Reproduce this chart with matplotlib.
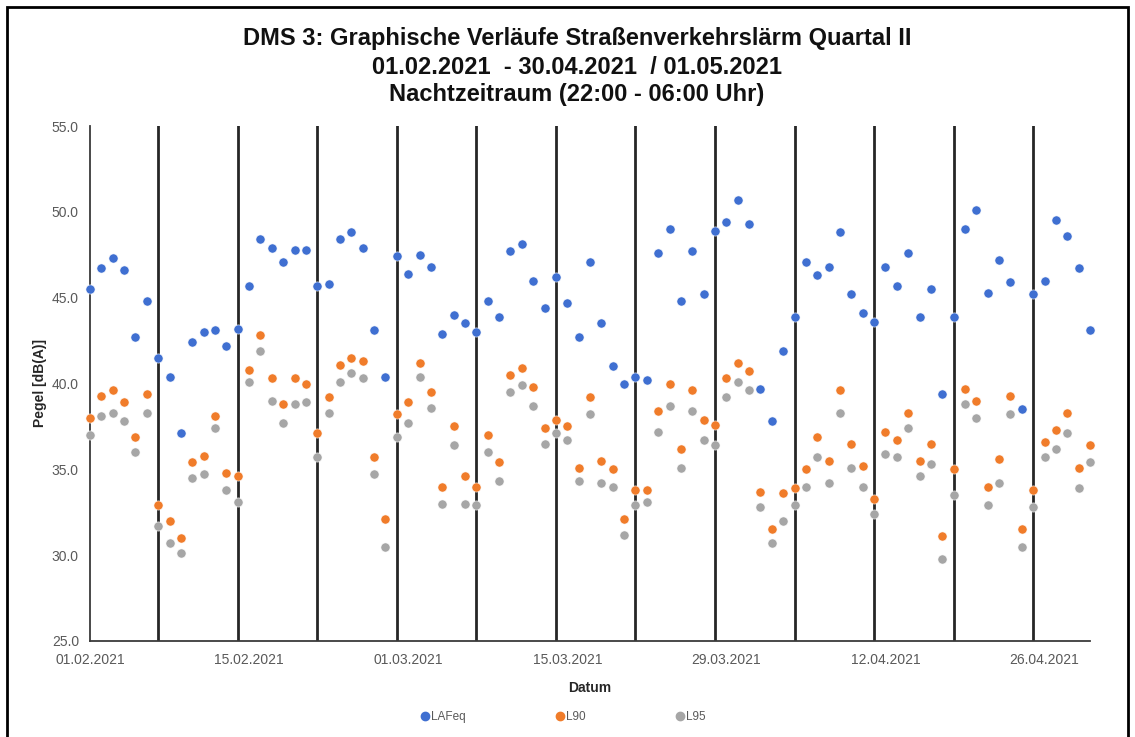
import numpy as np
import pandas as pd
import matplotlib
matplotlib.use("Agg")
import matplotlib.pyplot as plt
import matplotlib.dates as mdates
from matplotlib.lines import Line2D

plt.rcParams["font.family"] = ["Liberation Sans", "DejaVu Sans"]

# Tageswerte Nachtzeitraum, 01.02.2021 - 30.04.2021
dates = pd.date_range("2021-02-01", "2021-04-30", freq="D")

lafeq = [
    45.5, 46.7, 47.3, 46.6, 42.7, 44.8, 41.5, 40.4, 37.1, 42.4,
    43.0, 43.1, 42.2, 43.2, 45.7, 48.4, 47.9, 47.1, 47.8, 47.8,
    45.7, 45.8, 48.4, 48.8, 47.9, 43.1, 40.4, 47.4, 46.4, 47.5,
    46.8, 42.9, 44.0, 43.5, 43.0, 44.8, 43.9, 47.7, 48.1, 46.0,
    44.4, 46.2, 44.7, 42.7, 47.1, 43.5, 41.0, 40.0, 40.4, 40.2,
    47.6, 49.0, 44.8, 47.7, 45.2, 48.9, 49.4, 50.7, 49.3, 39.7,
    37.8, 41.9, 43.9, 47.1, 46.3, 46.8, 48.8, 45.2, 44.1, 43.6,
    46.8, 45.7, 47.6, 43.9, 45.5, 39.4, 43.9, 49.0, 50.1, 45.3,
    47.2, 45.9, 38.5, 45.2, 46.0, 49.5, 48.6, 46.7, 43.1,
]
l90 = [
    38.0, 39.3, 39.6, 38.9, 36.9, 39.4, 32.9, 32.0, 31.0, 35.4,
    35.8, 38.1, 34.8, 34.6, 40.8, 42.8, 40.3, 38.8, 40.3, 40.0,
    37.1, 39.2, 41.1, 41.5, 41.3, 35.7, 32.1, 38.2, 38.9, 41.2,
    39.5, 34.0, 37.5, 34.6, 34.0, 37.0, 35.4, 40.5, 40.9, 39.8,
    37.4, 37.9, 37.5, 35.1, 39.2, 35.5, 35.0, 32.1, 33.8, 33.8,
    38.4, 40.0, 36.2, 39.6, 37.9, 37.6, 40.3, 41.2, 40.7, 33.7,
    31.5, 33.6, 33.9, 35.0, 36.9, 35.5, 39.6, 36.5, 35.2, 33.3,
    37.2, 36.7, 38.3, 35.5, 36.5, 31.1, 35.0, 39.7, 39.0, 34.0,
    35.6, 39.3, 31.5, 33.8, 36.6, 37.3, 38.3, 35.1, 36.4,
]
l95 = [
    37.0, 38.1, 38.3, 37.8, 36.0, 38.3, 31.7, 30.7, 30.1, 34.5,
    34.7, 37.4, 33.8, 33.1, 40.1, 41.9, 39.0, 37.7, 38.8, 38.9,
    35.7, 38.3, 40.1, 40.6, 40.3, 34.7, 30.5, 36.9, 37.7, 40.4,
    38.6, 33.0, 36.4, 33.0, 32.9, 36.0, 34.3, 39.5, 39.9, 38.7,
    36.5, 37.1, 36.7, 34.3, 38.2, 34.2, 34.0, 31.2, 32.9, 33.1,
    37.2, 38.7, 35.1, 38.4, 36.7, 36.4, 39.2, 40.1, 39.6, 32.8,
    30.7, 32.0, 32.9, 34.0, 35.7, 34.2, 38.3, 35.1, 34.0, 32.4,
    35.9, 35.7, 37.4, 34.6, 35.3, 29.8, 33.5, 38.8, 38.0, 32.9,
    34.2, 38.2, 30.5, 32.8, 35.7, 36.2, 37.1, 33.9, 35.4,
]

series = ["LAFeq", "L90", "L95"]
colors = ["#3f6fd1", "#f07c2a", "#a6a6a6"]
GRAY = "#595959"

W, H = 1135, 737
fig = plt.figure(figsize=(W / 100, H / 100), dpi=100)
ax = fig.add_axes([90 / W, 1 - 641 / H, 1000 / W, 515 / H])

# Wochentrennlinien (Sonntage)
sundays = dates[dates.dayofweek == 6]
for d in sundays:
    ax.axvline(d, color="#262626", lw=2.0, zorder=1)

for vals, name, c in zip([lafeq, l90, l95], series, colors):
    ax.plot(dates, vals, ls="none", marker="o", ms=6.6, mec="white", mew=0.4,
            color=c, label=name, zorder=3, clip_on=False)

ax.set_xlim(dates[0], dates[-1])
ax.set_ylim(25, 55)
ax.set_yticks(np.arange(25, 55.1, 5))
ax.yaxis.set_major_formatter(matplotlib.ticker.FormatStrFormatter("%.1f"))
ax.set_xticks(dates[::14])
ax.xaxis.set_major_formatter(mdates.DateFormatter("%d.%m.%Y"))
ax.tick_params(axis="both", length=0, labelsize=10, labelcolor=GRAY)
ax.tick_params(axis="x", pad=9)
ax.tick_params(axis="y", pad=8)
for s in ["top", "right"]:
    ax.spines[s].set_visible(False)
for s in ["left", "bottom"]:
    ax.spines[s].set_color("#3a3a3a")
    ax.spines[s].set_linewidth(1.3)

ax.set_xlabel("Datum", fontsize=10, fontweight="bold", color="#262626", labelpad=10)
fig.text(40 / W, 1 - 383 / H, "Pegel [dB(A)]", rotation=90, fontsize=10,
         fontweight="bold", color="#262626", ha="center", va="center")

title_lines = [
    "DMS 3: Graphische Verläufe Straßenverkehrslärm Quartal II",
    "01.02.2021  - 30.04.2021  / 01.05.2021",
    "Nachtzeitraum (22:00 - 06:00 Uhr)",
]
for ty, line in zip([38, 67, 95], title_lines):
    fig.text(577 / W, 1 - ty / H, line, fontsize=17, fontweight="bold",
             ha="center", va="center", color="#111111")

handles = [Line2D([], [], ls="none", marker="o", ms=6, color=c) for c in colors]
leg = fig.legend(handles, series, loc="center", bbox_to_anchor=(562 / W, 1 - 717 / H),
                 ncol=3, frameon=False, fontsize=8.5, handletextpad=0.0,
                 columnspacing=7.5, handlelength=1.0)
for t in leg.get_texts():
    t.set_color(GRAY)

# Rahmen um die Grafik
fig.add_artist(plt.Rectangle((7 / W, -0.05), 1121 / W, 1.05 - 7 / H, transform=fig.transFigure,
                             fill=False, ec="black", lw=2.0))

fig.savefig("out.png", dpi=100, facecolor="white")
